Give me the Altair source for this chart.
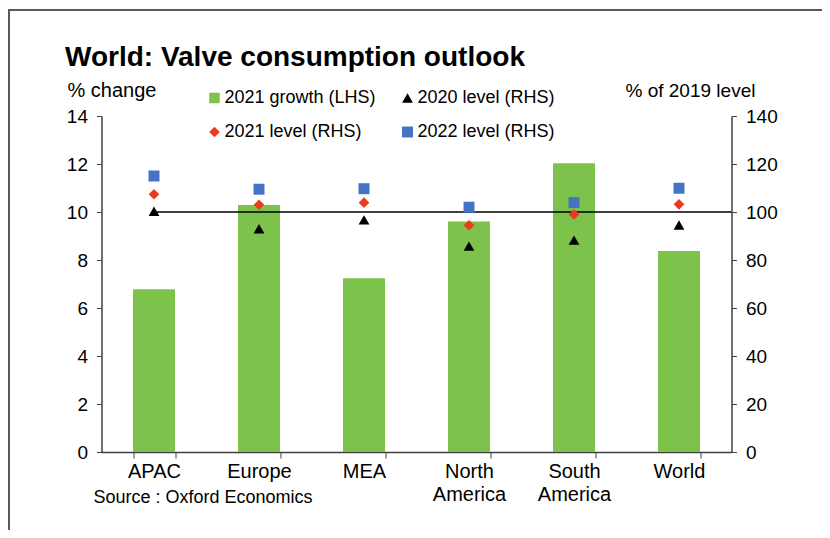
import altair as alt
import pandas as pd

categories = ["APAC", "Europe", "MEA", "North America", "South America", "World"]
growth_2021 = [6.78, 10.29, 7.24, 9.6, 12.03, 8.38]
level_2020 = [100.3, 93.0, 96.7, 85.8, 88.3, 94.6]
level_2021 = [107.4, 103.0, 103.9, 94.5, 99.0, 103.2]
level_2022 = [115.0, 109.5, 109.7, 102.0, 103.9, 109.9]
reference_level = [100]

# legend is filled column by column: col 1 = growth, 2021 level; col 2 = 2020 level, 2022 level
series_names = ["2021 growth (LHS)", "2021 level (RHS)", "2020 level (RHS)", "2022 level (RHS)"]
series_colors = ["#7DC24B", "#EC3A1E", "#000000", "#4472C4"]
series_shapes = ["square", "diamond", "triangle-up", "square"]
series_sizes = [110, 120, 140, 110]

FONT = "Liberation Sans"
AX = "#404040"

bars_df = pd.DataFrame({"cat": categories, "value": growth_2021, "series": series_names[0]})
rows = []
for name, vals in [("2020 level (RHS)", level_2020), ("2021 level (RHS)", level_2021),
                   ("2022 level (RHS)", level_2022)]:
    for c, v in zip(categories, vals):
        rows.append({"cat": c, "value": v, "series": name})
pts_df = pd.DataFrame(rows)
rule_df = pd.DataFrame({"cat": [categories[0]], "level": reference_level})

xaxis = alt.Axis(
    title="Source : Oxford Economics", titleAngle=0, titleAlign="left", titleBaseline="alphabetic",
    titleX=-8.5, titleY=50, titleFontSize=18, titleFontWeight="normal", titleColor="#000",
    labelFontSize=20, labelColor="#000", labelAngle=0, labelPadding=3,
    labelExpr="split(datum.label, ' ')", labelLineHeight=23,
    tickBand="extent", tickSize=6, tickColor=AX, domainColor=AX, domainWidth=1.5, grid=False,
)
xenc = alt.X("cat:N", sort=categories, axis=xaxis,
             scale=alt.Scale(paddingInner=0.6, paddingOuter=0.3))

color_scale = alt.Scale(domain=series_names, range=series_colors)
shape_scale = alt.Scale(domain=series_names, range=series_shapes)
size_scale = alt.Scale(domain=series_names, range=series_sizes)

legend = alt.Legend(title=None, orient="none", legendX=104, legendY=-27,
                    columns=2, columnPadding=22, rowPadding=16,
                    labelFontSize=18, labelColor="#000", symbolSize=60,
                    labelOffset=1, symbolStrokeWidth=0)

bars = alt.Chart(bars_df).mark_bar(size=42).encode(
    x=xenc,
    y=alt.Y("value:Q", scale=alt.Scale(domain=[0, 14], nice=False),
            axis=alt.Axis(values=list(range(0, 15, 2)), title="% change", titleAngle=0,
                          titleAlign="left", titleBaseline="alphabetic", titleX=-34.5, titleY=-20,
                          titleFontSize=20, titleFontWeight="normal", titleColor="#000",
                          labelFontSize=19, labelColor="#000", labelPadding=9,
                          tickSize=5, tickColor=AX, domainColor=AX, domainWidth=1.5, grid=False)),
    color=alt.Color("series:N", scale=color_scale, legend=legend),
)

rule = alt.Chart(rule_df).mark_rule(color="#000", strokeWidth=1.5).encode(
    x=xenc,
    x2=alt.value("width"),
    y=alt.Y("level:Q", scale=alt.Scale(domain=[0, 140], nice=False), axis=None),
)

points = alt.Chart(pts_df).mark_point(filled=True, opacity=1).encode(
    x=xenc,
    y=alt.Y("value:Q", scale=alt.Scale(domain=[0, 140], nice=False),
            axis=alt.Axis(orient="right", values=list(range(0, 141, 20)), title="% of 2019 level",
                          titleAngle=0, titleAlign="left", titleBaseline="alphabetic",
                          titleX=-106.5, titleY=-20, titleFontSize=19, titleFontWeight="normal",
                          titleColor="#000", labelFontSize=19, labelColor="#000", labelPadding=9,
                          tickSize=5, tickColor=AX, domainColor=AX, domainWidth=1.5, grid=False)),
    color=alt.Color("series:N", scale=color_scale, legend=legend),
    shape=alt.Shape("series:N", scale=shape_scale, legend=legend),
    size=alt.Size("series:N", scale=size_scale, legend=None),
)

frame_df = pd.DataFrame({"k": [0]})
frame_top = alt.Chart(frame_df).mark_rule(color="#5a5a5a", strokeWidth=2).encode(
    x=alt.value(-93.5), x2=alt.value(740), y=alt.value(-106)
)
frame_left = alt.Chart(frame_df).mark_rule(color="#5a5a5a", strokeWidth=2).encode(
    x=alt.value(-92.5), y=alt.value(-107), y2=alt.value(500)
)

chart = alt.layer(frame_top, frame_left, bars, rule, points).resolve_scale(y="independent").properties(
    width=630, height=336,
    autosize=alt.AutoSizeParams(type="none"),
    padding={"left": 93.5, "top": 108, "right": 90, "bottom": 78},
    title=alt.TitleParams("World: Valve consumption outlook", anchor="start", frame="group",
                          dx=-36.5, dy=68, fontSize=28, fontWeight="bold", color="#000", font=FONT),
).configure(font=FONT).configure_view(stroke=None)

chart.save("out.html", embed_options={"renderer": "svg", "actions": False})
